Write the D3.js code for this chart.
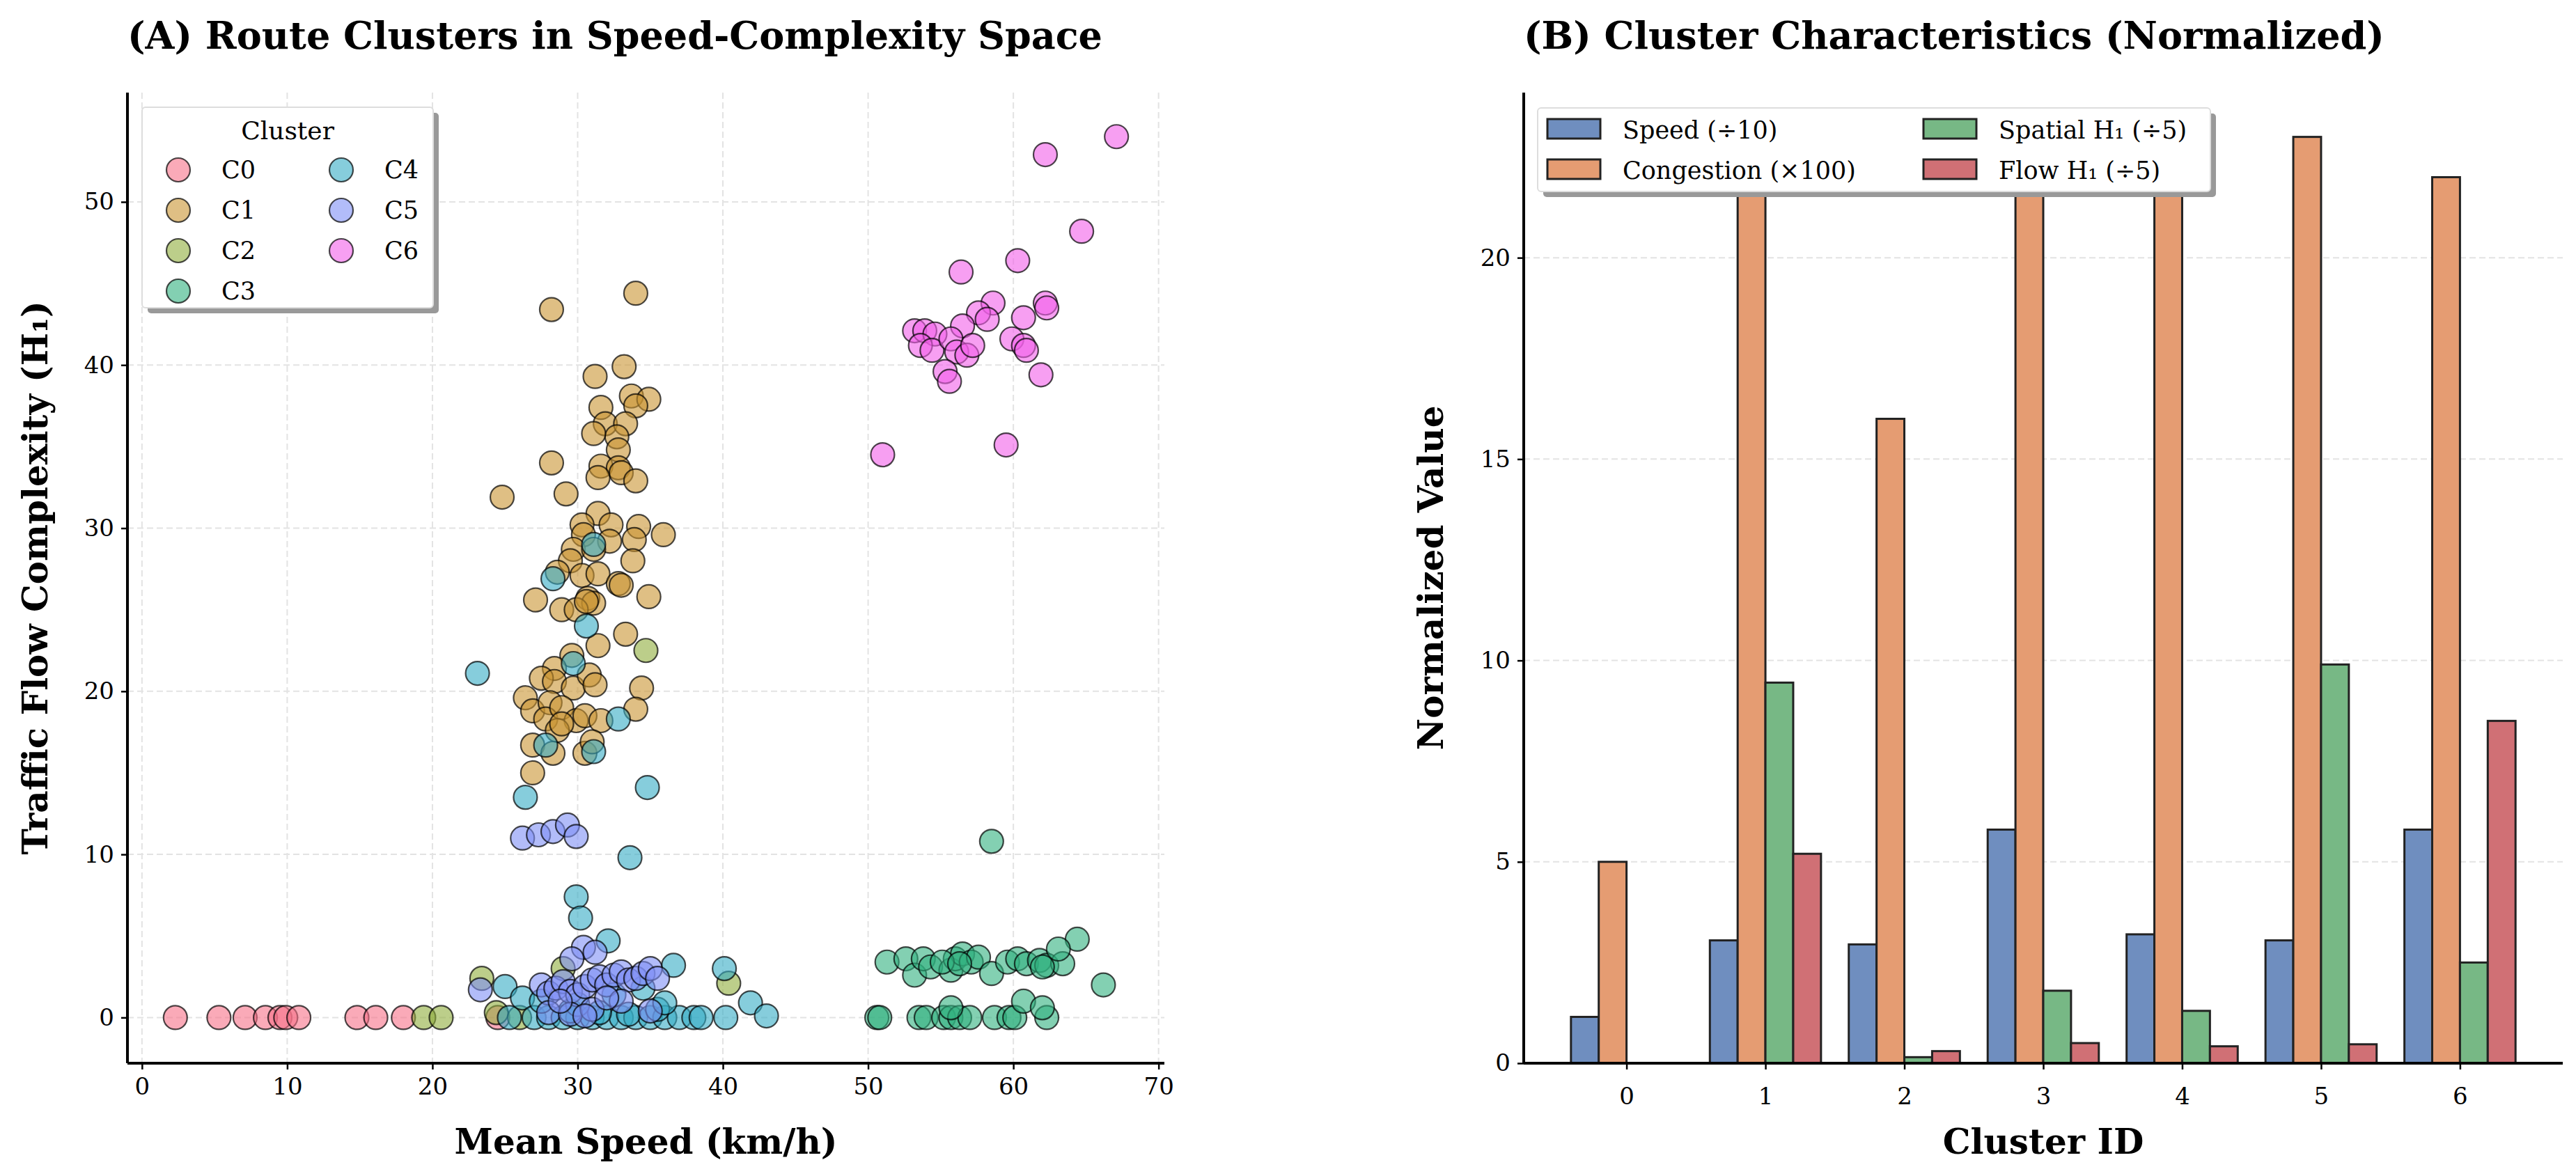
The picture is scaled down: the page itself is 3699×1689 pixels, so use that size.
<!DOCTYPE html><html><head><meta charset="utf-8"><script src="https://cdn.jsdelivr.net/npm/d3@7"></script>
<style>body{margin:0;background:#fff}text{font-family:"DejaVu Serif",serif}</style></head><body>
<script>
const clusterNames=["C0","C1","C2","C3","C4","C5","C6"];
const clusterColors=["#f77189","#c99532","#8fad3c","#31b07e","#36abc4","#7e8ff5","#f15fe9"];
const C0=[[2.3,0],[5.3,0],[7.1,0],[8.5,0],[9.5,0],[9.9,0],[10.8,0],[14.8,0],[16.1,0],[18.0,0],[24.5,0]];
const C1=[[28.2,43.4],[34.0,44.4],[33.2,39.9],[31.2,39.3],[33.7,38.1],[34.9,37.9],[34.0,37.5],[31.6,37.4],[31.9,36.4],[33.3,36.4],[32.7,35.6],[31.1,35.8],[32.8,34.8],[28.2,34.0],[31.6,33.8],[32.8,33.7],[31.4,33.1],[33.0,33.4],[34.0,32.9],[24.8,31.9],[29.2,32.1],[31.4,30.9],[30.3,30.2],[32.3,30.2],[34.2,30.1],[35.9,29.6],[33.9,29.3],[30.4,29.6],[29.7,28.7],[32.2,29.2],[31.1,28.7],[33.8,28.0],[29.5,28.0],[28.6,27.3],[30.3,27.1],[31.4,27.2],[32.8,26.6],[27.1,25.6],[30.7,25.7],[34.9,25.8],[31.1,25.4],[28.9,25.0],[29.9,25.0],[33.3,23.5],[31.4,22.8],[29.6,22.2],[34.4,20.2],[28.4,21.4],[27.5,20.8],[28.4,20.6],[29.7,20.2],[30.8,21.0],[31.2,20.4],[26.4,19.6],[26.9,18.8],[28.1,19.3],[27.8,18.3],[28.9,19.0],[29.9,18.2],[30.5,18.5],[31.6,18.2],[34.0,18.9],[28.6,17.6],[26.9,16.7],[28.3,16.2],[30.5,16.2],[31.0,16.9],[26.9,15.0],[28.9,18.0],[33.0,26.5],[30.6,25.5]];
const C2=[[19.4,0],[20.6,0],[23.4,2.4],[40.4,2.1],[34.7,22.5],[24.4,0.3],[29.0,3.0],[26.0,0]];
const C3=[[58.5,10.8],[64.4,4.8],[66.2,2.0],[51.3,3.4],[52.6,3.6],[53.2,2.6],[53.8,3.6],[54.3,3.1],[55.7,2.9],[56.0,3.6],[56.5,3.9],[57.1,3.4],[57.6,3.7],[58.5,2.7],[59.6,3.4],[60.3,3.6],[60.9,3.3],[61.8,3.5],[62.3,3.2],[63.4,3.3],[63.1,4.2],[55.1,3.4],[56.3,3.3],[62.0,3.1],[50.6,0],[50.8,0],[53.5,0],[54.0,0],[55.2,0],[55.7,0],[56.3,0],[57.0,0],[58.7,0],[59.7,0],[60.1,0],[62.3,0],[60.7,1.0],[62.0,0.6],[55.7,0.6]];
const C4=[[31.1,29.0],[28.3,26.9],[30.6,24.0],[23.1,21.1],[29.7,21.7],[32.8,18.3],[27.8,16.7],[31.1,16.3],[26.4,13.5],[34.8,14.1],[33.6,9.8],[29.9,7.4],[30.2,6.1],[32.1,4.7],[36.6,3.2],[40.1,3.0],[41.9,0.9],[43.0,0.1],[40.2,0],[25.0,1.9],[25.3,0],[26.2,1.2],[27.0,0],[28.0,0],[29.0,0],[30.0,0],[31.0,0],[32.0,0],[33.0,0],[34.0,0],[35.0,0],[36.0,0],[37.0,0],[38.0,0],[38.5,0],[29.5,0.4],[31.5,0.3],[33.5,0.2],[35.5,0.5],[27.5,1.0],[30.0,0.8],[32.5,1.4],[34.5,1.8],[36.0,0.9]];
const C5=[[26.2,11.0],[27.3,11.2],[28.3,11.4],[29.3,11.8],[29.9,11.1],[30.4,4.3],[31.2,4.0],[29.6,3.6],[23.3,1.7],[27.5,2.0],[28.0,1.5],[28.5,1.8],[29.0,2.2],[29.5,1.6],[30.0,1.4],[30.5,1.9],[31.0,2.3],[31.5,2.5],[32.0,2.0],[32.5,2.6],[33.0,2.8],[33.5,2.3],[34.0,2.4],[34.5,2.7],[35.0,3.0],[35.5,2.4],[28.0,0.3],[29.5,0.2],[31.0,0.5],[33.0,1.0],[35.0,0.4],[30.5,0.1],[32.0,1.2],[28.8,1.0]];
const C6=[[67.1,54.0],[62.2,52.9],[64.7,48.2],[60.3,46.4],[56.4,45.7],[62.2,43.8],[62.3,43.5],[58.6,43.8],[57.6,43.2],[58.2,42.8],[60.7,42.9],[56.5,42.4],[53.2,42.1],[53.9,42.1],[54.6,41.9],[53.6,41.2],[54.4,40.9],[55.7,41.6],[56.1,40.8],[56.8,40.6],[57.2,41.2],[59.9,41.6],[60.7,41.2],[60.9,40.9],[55.3,39.6],[55.6,39.0],[61.9,39.4],[59.5,35.1],[51.0,34.5]];
const clusters=[C0,C1,C2,C3,C4,C5,C6];
const xTicksA=[0,10,20,30,40,50,60,70], yTicksA=[0,10,20,30,40,50];
const clusterIds=[0,1,2,3,4,5,6];
const seriesNames=["Speed (÷10)","Congestion (×100)","Spatial H₁ (÷5)","Flow H₁ (÷5)"];
const seriesColors=["#6f8ebf","#e59c72","#77b885","#d07075"];
const speed=[1.15,3.05,2.95,5.8,3.2,3.05,5.8];
const congestion=[5.0,22.4,16.0,22.7,22.3,23.0,22.0];
const spatial=[0,9.45,0.15,1.8,1.3,9.9,2.5];
const flow=[0,5.2,0.3,0.5,0.42,0.47,8.5];
const yTicksB=[0,5,10,15,20];

const W=3699,H=1689;
const svg=d3.select("body").append("svg").attr("width",W).attr("height",H);
const TF=34;
// Panel A
const A={l:183,r:1672,t:133,b:1527};
const x=d3.scaleLinear().domain([-1,70.4]).range([A.l,A.r]);
const y=d3.scaleLinear().domain([-2.8,56.7]).range([A.b,A.t]);
const gA=svg.append("g");
gA.selectAll(".gx").data(xTicksA).join("line").attr("x1",d=>x(d)).attr("x2",d=>x(d)).attr("y1",A.t).attr("y2",A.b).attr("stroke","#e3e3e3").attr("stroke-width",2).attr("stroke-dasharray","9,5");
gA.selectAll(".gy").data(yTicksA).join("line").attr("y1",d=>y(d)).attr("y2",d=>y(d)).attr("x1",A.l).attr("x2",A.r).attr("stroke","#e3e3e3").attr("stroke-width",2).attr("stroke-dasharray","9,5");
clusters.forEach((pts,i)=>{
  gA.append("g").selectAll("circle").data(pts).join("circle").attr("cx",d=>x(d[0])).attr("cy",d=>y(d[1])).attr("r",17)
   .attr("fill",clusterColors[i]).attr("fill-opacity",0.6).attr("stroke","#000").attr("stroke-opacity",0.7).attr("stroke-width",2.2);
});
const axA=gA.append("g").attr("transform",`translate(0,${A.b})`).call(d3.axisBottom(x).tickValues(xTicksA).tickSize(9).tickPadding(12));
const ayA=gA.append("g").attr("transform",`translate(${A.l},0)`).call(d3.axisLeft(y).tickValues(yTicksA).tickSize(9).tickPadding(10));
[axA,ayA].forEach(a=>{a.selectAll("text").attr("font-size",TF).attr("font-family","DejaVu Serif").attr("fill","#000");a.selectAll("line").attr("stroke-width",2.5);a.select(".domain").attr("stroke-width",4);});
axA.select(".domain").attr("d",`M${A.l},0H${A.r}`);ayA.select(".domain").attr("d",`M0,${A.b}V${A.t}`);
svg.append("text").attr("x",A.l).attr("y",70).attr("font-size",54).attr("font-weight","bold").text("(A) Route Clusters in Speed-Complexity Space");
svg.append("text").attr("x",(A.l+A.r)/2).attr("y",1657).attr("text-anchor","middle").attr("font-size",50).attr("font-weight","bold").text("Mean Speed (km/h)");
svg.append("text").attr("transform",`translate(68,${(A.t+A.b)/2}) rotate(-90)`).attr("text-anchor","middle").attr("font-size",50).attr("font-weight","bold").text("Traffic Flow Complexity (H₁)");
// legend A
const lg=svg.append("g").attr("transform","translate(204,154)");
lg.append("rect").attr("x",8).attr("y",8).attr("width",418).attr("height",288).attr("fill","#999").attr("rx",5);
lg.append("rect").attr("width",418).attr("height",288).attr("fill","#fff").attr("stroke","#ddd").attr("stroke-width",2).attr("rx",5);
lg.append("text").attr("x",209).attr("y",46).attr("text-anchor","middle").attr("font-size",36).text("Cluster");
clusterNames.forEach((n,i)=>{const col=i<4?0:1,row=i<4?i:i-4;
  const g=lg.append("g").attr("transform",`translate(${52+col*234},${90+row*58})`);
  g.append("circle").attr("r",17).attr("fill",clusterColors[i]).attr("fill-opacity",0.6).attr("stroke","#000").attr("stroke-opacity",0.7).attr("stroke-width",2.2);
  g.append("text").attr("x",62).attr("y",12).attr("font-size",35).text(n);});
// Panel B
const B={l:2188,r:3680,t:133,b:1527};
const xb=d3.scaleLinear().domain([-0.74,6.74]).range([B.l,B.r]);
const yb=d3.scaleLinear().domain([0,24.1]).range([B.b,B.t]);
const gB=svg.append("g");
gB.selectAll(".gy").data(yTicksB.slice(1)).join("line").attr("y1",d=>yb(d)).attr("y2",d=>yb(d)).attr("x1",B.l).attr("x2",B.r).attr("stroke","#e3e3e3").attr("stroke-width",2).attr("stroke-dasharray","9,5");
const series=[speed,congestion,spatial,flow];
const bw=0.2;
series.forEach((vals,k)=>{
  gB.append("g").selectAll("rect").data(vals).join("rect").attr("x",(d,i)=>xb(clusterIds[i]-0.3+k*bw-bw/2)).attr("width",xb(bw)-xb(0))
   .attr("y",d=>yb(d)).attr("height",d=>yb(0)-yb(d)).attr("fill",seriesColors[k]).attr("stroke","#222").attr("stroke-width",d=>d>0?3:0);
});
const axB=gB.append("g").attr("transform",`translate(0,${B.b})`).call(d3.axisBottom(xb).tickValues(clusterIds).tickFormat(d3.format("d")).tickSize(9).tickPadding(26));
const ayB=gB.append("g").attr("transform",`translate(${B.l},0)`).call(d3.axisLeft(yb).tickValues(yTicksB).tickSize(9).tickPadding(10));
[axB,ayB].forEach(a=>{a.selectAll("text").attr("font-size",TF).attr("font-family","DejaVu Serif").attr("fill","#000");a.selectAll("line").attr("stroke-width",2.5);a.select(".domain").attr("stroke-width",4);});
axB.select(".domain").attr("d",`M${B.l},0H${B.r}`);ayB.select(".domain").attr("d",`M0,${B.b}V${B.t}`);
svg.append("text").attr("x",2188).attr("y",70).attr("font-size",54).attr("font-weight","bold").text("(B) Cluster Characteristics (Normalized)");
svg.append("text").attr("x",(B.l+B.r)/2).attr("y",1657).attr("text-anchor","middle").attr("font-size",50).attr("font-weight","bold").text("Cluster ID");
svg.append("text").attr("transform",`translate(2072,${(B.t+B.b)/2}) rotate(-90)`).attr("text-anchor","middle").attr("font-size",50).attr("font-weight","bold").text("Normalized Value");
const lb=svg.append("g").attr("transform","translate(2208,155)");
lb.append("rect").attr("x",8).attr("y",8).attr("width",966).attr("height",120).attr("fill","#999").attr("rx",5);
lb.append("rect").attr("width",966).attr("height",120).attr("fill","#fff").attr("stroke","#ddd").attr("stroke-width",2).attr("rx",5);
seriesNames.forEach((n,i)=>{const col=i<2?0:1,row=i%2;
  const g=lb.append("g").attr("transform",`translate(${14+col*540},${16+row*58})`);
  g.append("rect").attr("width",76).attr("height",28).attr("fill",seriesColors[i]).attr("stroke","#222").attr("stroke-width",3);
  g.append("text").attr("x",108).attr("y",28).attr("font-size",35).text(n);});
</script></body></html>
